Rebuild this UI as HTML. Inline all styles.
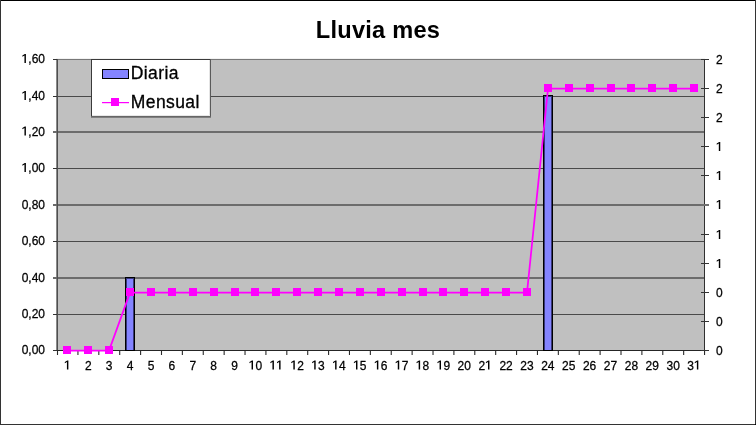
<!DOCTYPE html>
<html><head><meta charset="utf-8"><style>
html,body{margin:0;padding:0;background:#fff;overflow:hidden;}
svg{display:block;will-change:transform;} rect{shape-rendering:crispEdges;}
svg text{font-family:"Liberation Sans",sans-serif;fill:#000;}
.t{font-size:12px;stroke:#000;stroke-width:0.25px;}
.lg{font-size:17.5px;letter-spacing:0.4px;stroke:#000;stroke-width:0.3px;}
.ti{font-size:23.6px;font-weight:bold;letter-spacing:0.25px;}
</style></head><body>
<svg width="756" height="425" viewBox="0 0 756 425">
<rect x="0" y="0" width="756" height="425" fill="#fff"/>
<rect x="0" y="0" width="756" height="1" fill="#000"/>
<rect x="0" y="0" width="1" height="425" fill="#333"/>
<rect x="755" y="0" width="1" height="425" fill="#333"/>
<rect x="0" y="424" width="756" height="1" fill="#333"/>
<rect x="755" y="424" width="1" height="1" fill="#000"/>
<rect x="57" y="59" width="648" height="292" fill="#c0c0c0"/>
<rect x="58" y="96" width="646" height="1" fill="#4a4a4a"/>
<rect x="58" y="131" width="646" height="1" fill="#6c6c6c"/>
<rect x="58" y="132" width="646" height="1" fill="#6c6c6c"/>
<rect x="58" y="168" width="646" height="1" fill="#4a4a4a"/>
<rect x="58" y="204" width="646" height="1" fill="#6c6c6c"/>
<rect x="58" y="205" width="646" height="1" fill="#6c6c6c"/>
<rect x="58" y="241" width="646" height="1" fill="#4a4a4a"/>
<rect x="58" y="277" width="646" height="1" fill="#6c6c6c"/>
<rect x="58" y="278" width="646" height="1" fill="#6c6c6c"/>
<rect x="58" y="314" width="646" height="1" fill="#4a4a4a"/>
<rect x="56" y="58" width="649" height="1" fill="#f2f2f2"/>
<rect x="56" y="59" width="649" height="1" fill="#787878"/>
<rect x="56" y="59" width="1" height="292" fill="#8a8a8a"/>
<rect x="57" y="59" width="1" height="292" fill="#4e4e4e"/>
<rect x="704" y="59" width="1" height="292" fill="#303030"/>
<rect x="53" y="350" width="656" height="1" fill="#252525"/>
<rect x="53" y="59" width="4" height="1" fill="#333"/>
<rect x="53" y="96" width="4" height="1" fill="#333"/>
<rect x="53" y="131" width="4" height="2" fill="#6a6a6a"/>
<rect x="53" y="168" width="4" height="1" fill="#333"/>
<rect x="53" y="204" width="4" height="2" fill="#6a6a6a"/>
<rect x="53" y="241" width="4" height="1" fill="#333"/>
<rect x="53" y="277" width="4" height="2" fill="#6a6a6a"/>
<rect x="53" y="314" width="4" height="1" fill="#333"/>
<rect x="53" y="350" width="4" height="1" fill="#333"/>
<rect x="701" y="350" width="8" height="1" fill="#333"/>
<rect x="701" y="321" width="8" height="1" fill="#333"/>
<rect x="701" y="292" width="8" height="1" fill="#333"/>
<rect x="701" y="263" width="8" height="1" fill="#333"/>
<rect x="701" y="234" width="8" height="1" fill="#333"/>
<rect x="701" y="204" width="8" height="2" fill="#707070"/>
<rect x="701" y="175" width="8" height="1" fill="#333"/>
<rect x="701" y="146" width="8" height="1" fill="#333"/>
<rect x="701" y="117" width="8" height="1" fill="#333"/>
<rect x="701" y="88" width="8" height="1" fill="#333"/>
<rect x="701" y="59" width="8" height="1" fill="#333"/>
<line x1="57.50" y1="351" x2="57.50" y2="355" stroke="#2a2a2a" stroke-width="1.1"/>
<line x1="77.94" y1="351" x2="77.94" y2="355" stroke="#2a2a2a" stroke-width="1.1"/>
<line x1="98.82" y1="351" x2="98.82" y2="355" stroke="#2a2a2a" stroke-width="1.1"/>
<line x1="119.71" y1="351" x2="119.71" y2="355" stroke="#2a2a2a" stroke-width="1.1"/>
<line x1="140.60" y1="351" x2="140.60" y2="355" stroke="#2a2a2a" stroke-width="1.1"/>
<line x1="161.49" y1="351" x2="161.49" y2="355" stroke="#2a2a2a" stroke-width="1.1"/>
<line x1="182.37" y1="351" x2="182.37" y2="355" stroke="#2a2a2a" stroke-width="1.1"/>
<line x1="203.26" y1="351" x2="203.26" y2="355" stroke="#2a2a2a" stroke-width="1.1"/>
<line x1="224.15" y1="351" x2="224.15" y2="355" stroke="#2a2a2a" stroke-width="1.1"/>
<line x1="245.03" y1="351" x2="245.03" y2="355" stroke="#2a2a2a" stroke-width="1.1"/>
<line x1="265.92" y1="351" x2="265.92" y2="355" stroke="#2a2a2a" stroke-width="1.1"/>
<line x1="286.81" y1="351" x2="286.81" y2="355" stroke="#2a2a2a" stroke-width="1.1"/>
<line x1="307.70" y1="351" x2="307.70" y2="355" stroke="#2a2a2a" stroke-width="1.1"/>
<line x1="328.58" y1="351" x2="328.58" y2="355" stroke="#2a2a2a" stroke-width="1.1"/>
<line x1="349.47" y1="351" x2="349.47" y2="355" stroke="#2a2a2a" stroke-width="1.1"/>
<line x1="370.36" y1="351" x2="370.36" y2="355" stroke="#2a2a2a" stroke-width="1.1"/>
<line x1="391.24" y1="351" x2="391.24" y2="355" stroke="#2a2a2a" stroke-width="1.1"/>
<line x1="412.13" y1="351" x2="412.13" y2="355" stroke="#2a2a2a" stroke-width="1.1"/>
<line x1="433.02" y1="351" x2="433.02" y2="355" stroke="#2a2a2a" stroke-width="1.1"/>
<line x1="453.90" y1="351" x2="453.90" y2="355" stroke="#2a2a2a" stroke-width="1.1"/>
<line x1="474.79" y1="351" x2="474.79" y2="355" stroke="#2a2a2a" stroke-width="1.1"/>
<line x1="495.68" y1="351" x2="495.68" y2="355" stroke="#2a2a2a" stroke-width="1.1"/>
<line x1="516.57" y1="351" x2="516.57" y2="355" stroke="#2a2a2a" stroke-width="1.1"/>
<line x1="537.45" y1="351" x2="537.45" y2="355" stroke="#2a2a2a" stroke-width="1.1"/>
<line x1="558.34" y1="351" x2="558.34" y2="355" stroke="#2a2a2a" stroke-width="1.1"/>
<line x1="579.23" y1="351" x2="579.23" y2="355" stroke="#2a2a2a" stroke-width="1.1"/>
<line x1="600.11" y1="351" x2="600.11" y2="355" stroke="#2a2a2a" stroke-width="1.1"/>
<line x1="621.00" y1="351" x2="621.00" y2="355" stroke="#2a2a2a" stroke-width="1.1"/>
<line x1="641.89" y1="351" x2="641.89" y2="355" stroke="#2a2a2a" stroke-width="1.1"/>
<line x1="662.78" y1="351" x2="662.78" y2="355" stroke="#2a2a2a" stroke-width="1.1"/>
<line x1="683.66" y1="351" x2="683.66" y2="355" stroke="#2a2a2a" stroke-width="1.1"/>
<line x1="704.55" y1="351" x2="704.55" y2="355" stroke="#2a2a2a" stroke-width="1.1"/>
<rect x="125" y="277" width="10" height="74" fill="#000"/>
<rect x="126" y="278" width="8" height="72" fill="#383878"/>
<rect x="127" y="279" width="6" height="71" fill="#8484ff"/>
<rect x="543" y="95" width="10" height="256" fill="#000"/>
<rect x="544" y="96" width="8" height="254" fill="#383878"/>
<rect x="545" y="97" width="6" height="253" fill="#8484ff"/>
<polyline points="67.00,350.60 88.00,350.60 109.00,350.60 130.00,292.60 151.00,292.60 172.00,292.60 193.00,292.60 214.00,292.60 235.00,292.60 255.00,292.60 276.00,292.60 297.00,292.60 318.00,292.60 339.00,292.60 360.00,292.60 381.00,292.60 402.00,292.60 423.00,292.60 443.00,292.60 464.00,292.60 485.00,292.60 506.00,292.60 527.00,292.60 548.00,88.60 569.00,88.60 590.00,88.60 611.00,88.60 631.00,88.60 652.00,88.60 673.00,88.60 694.00,88.60" fill="none" stroke="#ff00ff" stroke-width="1.75" stroke-linejoin="round"/>
<rect x="63" y="346" width="8" height="8" fill="#ff00ff"/>
<rect x="84" y="346" width="8" height="8" fill="#ff00ff"/>
<rect x="105" y="346" width="8" height="8" fill="#ff00ff"/>
<rect x="126" y="288" width="8" height="8" fill="#ff00ff"/>
<rect x="147" y="288" width="8" height="8" fill="#ff00ff"/>
<rect x="168" y="288" width="8" height="8" fill="#ff00ff"/>
<rect x="189" y="288" width="8" height="8" fill="#ff00ff"/>
<rect x="210" y="288" width="8" height="8" fill="#ff00ff"/>
<rect x="231" y="288" width="8" height="8" fill="#ff00ff"/>
<rect x="251" y="288" width="8" height="8" fill="#ff00ff"/>
<rect x="272" y="288" width="8" height="8" fill="#ff00ff"/>
<rect x="293" y="288" width="8" height="8" fill="#ff00ff"/>
<rect x="314" y="288" width="8" height="8" fill="#ff00ff"/>
<rect x="335" y="288" width="8" height="8" fill="#ff00ff"/>
<rect x="356" y="288" width="8" height="8" fill="#ff00ff"/>
<rect x="377" y="288" width="8" height="8" fill="#ff00ff"/>
<rect x="398" y="288" width="8" height="8" fill="#ff00ff"/>
<rect x="419" y="288" width="8" height="8" fill="#ff00ff"/>
<rect x="439" y="288" width="8" height="8" fill="#ff00ff"/>
<rect x="460" y="288" width="8" height="8" fill="#ff00ff"/>
<rect x="481" y="288" width="8" height="8" fill="#ff00ff"/>
<rect x="502" y="288" width="8" height="8" fill="#ff00ff"/>
<rect x="523" y="288" width="8" height="8" fill="#ff00ff"/>
<rect x="544" y="84" width="8" height="8" fill="#ff00ff"/>
<rect x="565" y="84" width="8" height="8" fill="#ff00ff"/>
<rect x="586" y="84" width="8" height="8" fill="#ff00ff"/>
<rect x="607" y="84" width="8" height="8" fill="#ff00ff"/>
<rect x="627" y="84" width="8" height="8" fill="#ff00ff"/>
<rect x="648" y="84" width="8" height="8" fill="#ff00ff"/>
<rect x="669" y="84" width="8" height="8" fill="#ff00ff"/>
<rect x="690" y="84" width="8" height="8" fill="#ff00ff"/>
<rect x="91" y="59" width="120" height="59" fill="#fff"/>
<rect x="91" y="59" width="120" height="1" fill="#3a3a3a"/>
<rect x="91" y="59" width="1" height="58" fill="#3a3a3a"/>
<rect x="209" y="60" width="1" height="56" fill="#e4e4e4"/>
<rect x="210" y="59" width="1" height="58" fill="#5a5a5a"/>
<rect x="92" y="115" width="118" height="1" fill="#e8e8e8"/>
<rect x="91" y="116" width="120" height="1" fill="#666"/>
<rect x="91" y="117" width="120" height="1" fill="#808080"/>
<rect x="102" y="69" width="27" height="10" fill="#000"/>
<rect x="103" y="70" width="25" height="8" fill="#8484ff"/>
<rect x="102" y="102" width="27" height="1" fill="#ff00ff"/>
<rect x="102" y="103" width="27" height="1" fill="#ffc8ff"/>
<rect x="111" y="98" width="8" height="8" fill="#ff00ff"/>
<g transform="translate(0,63.0) scale(1,1.08)"><text class="t" x="28.32 31.65 38.33" y="0">,60</text><path d="M0.235,0 L0.355,0 L0.355,0.70 L0.265,0.70 L0.06,0.585 L0.06,0.475 L0.235,0.58 Z" transform="translate(21.64,0) scale(12.0,-12.0)" fill="#000"/></g>
<g transform="translate(0,100.0) scale(1,1.08)"><text class="t" x="28.32 31.65 38.33" y="0">,40</text><path d="M0.235,0 L0.355,0 L0.355,0.70 L0.265,0.70 L0.06,0.585 L0.06,0.475 L0.235,0.58 Z" transform="translate(21.64,0) scale(12.0,-12.0)" fill="#000"/></g>
<g transform="translate(0,135.5) scale(1,1.08)"><text class="t" x="28.32 31.65 38.33" y="0">,20</text><path d="M0.235,0 L0.355,0 L0.355,0.70 L0.265,0.70 L0.06,0.585 L0.06,0.475 L0.235,0.58 Z" transform="translate(21.64,0) scale(12.0,-12.0)" fill="#000"/></g>
<g transform="translate(0,172.0) scale(1,1.08)"><text class="t" x="28.32 31.65 38.33" y="0">,00</text><path d="M0.235,0 L0.355,0 L0.355,0.70 L0.265,0.70 L0.06,0.585 L0.06,0.475 L0.235,0.58 Z" transform="translate(21.64,0) scale(12.0,-12.0)" fill="#000"/></g>
<g transform="translate(0,208.5) scale(1,1.08)"><text class="t" x="21.64 28.32 31.65 38.33" y="0">0,80</text></g>
<g transform="translate(0,245.0) scale(1,1.08)"><text class="t" x="21.64 28.32 31.65 38.33" y="0">0,60</text></g>
<g transform="translate(0,281.5) scale(1,1.08)"><text class="t" x="21.64 28.32 31.65 38.33" y="0">0,40</text></g>
<g transform="translate(0,318.0) scale(1,1.08)"><text class="t" x="21.64 28.32 31.65 38.33" y="0">0,20</text></g>
<g transform="translate(0,354.0) scale(1,1.08)"><text class="t" x="21.64 28.32 31.65 38.33" y="0">0,00</text></g>
<g transform="translate(0,355.0) scale(1,1.08)"><text class="t" x="716.00" y="0">0</text></g>
<g transform="translate(0,326.0) scale(1,1.08)"><text class="t" x="716.00" y="0">0</text></g>
<g transform="translate(0,297.0) scale(1,1.08)"><text class="t" x="716.00" y="0">0</text></g>
<g transform="translate(0,268.0) scale(1,1.08)"><path d="M0.235,0 L0.355,0 L0.355,0.70 L0.265,0.70 L0.06,0.585 L0.06,0.475 L0.235,0.58 Z" transform="translate(716.00,0) scale(12.0,-12.0)" fill="#000"/></g>
<g transform="translate(0,239.0) scale(1,1.08)"><path d="M0.235,0 L0.355,0 L0.355,0.70 L0.265,0.70 L0.06,0.585 L0.06,0.475 L0.235,0.58 Z" transform="translate(716.00,0) scale(12.0,-12.0)" fill="#000"/></g>
<g transform="translate(0,209.0) scale(1,1.08)"><path d="M0.235,0 L0.355,0 L0.355,0.70 L0.265,0.70 L0.06,0.585 L0.06,0.475 L0.235,0.58 Z" transform="translate(716.00,0) scale(12.0,-12.0)" fill="#000"/></g>
<g transform="translate(0,180.0) scale(1,1.08)"><path d="M0.235,0 L0.355,0 L0.355,0.70 L0.265,0.70 L0.06,0.585 L0.06,0.475 L0.235,0.58 Z" transform="translate(716.00,0) scale(12.0,-12.0)" fill="#000"/></g>
<g transform="translate(0,151.0) scale(1,1.08)"><path d="M0.235,0 L0.355,0 L0.355,0.70 L0.265,0.70 L0.06,0.585 L0.06,0.475 L0.235,0.58 Z" transform="translate(716.00,0) scale(12.0,-12.0)" fill="#000"/></g>
<g transform="translate(0,122.0) scale(1,1.08)"><text class="t" x="716.00" y="0">2</text></g>
<g transform="translate(0,93.0) scale(1,1.08)"><text class="t" x="716.00" y="0">2</text></g>
<g transform="translate(0,64.0) scale(1,1.08)"><text class="t" x="716.00" y="0">2</text></g>
<g transform="translate(0,369.5) scale(1,1.08)"><path d="M0.235,0 L0.355,0 L0.355,0.70 L0.265,0.70 L0.06,0.585 L0.06,0.475 L0.235,0.58 Z" transform="translate(64.11,0) scale(12.0,-12.0)" fill="#000"/></g>
<g transform="translate(0,369.5) scale(1,1.08)"><text class="t" x="84.99" y="0">2</text></g>
<g transform="translate(0,369.5) scale(1,1.08)"><text class="t" x="105.88" y="0">3</text></g>
<g transform="translate(0,369.5) scale(1,1.08)"><text class="t" x="126.77" y="0">4</text></g>
<g transform="translate(0,369.5) scale(1,1.08)"><text class="t" x="147.65" y="0">5</text></g>
<g transform="translate(0,369.5) scale(1,1.08)"><text class="t" x="168.54" y="0">6</text></g>
<g transform="translate(0,369.5) scale(1,1.08)"><text class="t" x="189.43" y="0">7</text></g>
<g transform="translate(0,369.5) scale(1,1.08)"><text class="t" x="210.32" y="0">8</text></g>
<g transform="translate(0,369.5) scale(1,1.08)"><text class="t" x="231.20" y="0">9</text></g>
<g transform="translate(0,369.5) scale(1,1.08)"><text class="t" x="255.43" y="0">0</text><path d="M0.235,0 L0.355,0 L0.355,0.70 L0.265,0.70 L0.06,0.585 L0.06,0.475 L0.235,0.58 Z" transform="translate(248.75,0) scale(12.0,-12.0)" fill="#000"/></g>
<g transform="translate(0,369.5) scale(1,1.08)"><path d="M0.235,0 L0.355,0 L0.355,0.70 L0.265,0.70 L0.06,0.585 L0.06,0.475 L0.235,0.58 Z" transform="translate(269.64,0) scale(12.0,-12.0)" fill="#000"/><path d="M0.235,0 L0.355,0 L0.355,0.70 L0.265,0.70 L0.06,0.585 L0.06,0.475 L0.235,0.58 Z" transform="translate(276.31,0) scale(12.0,-12.0)" fill="#000"/></g>
<g transform="translate(0,369.5) scale(1,1.08)"><text class="t" x="297.20" y="0">2</text><path d="M0.235,0 L0.355,0 L0.355,0.70 L0.265,0.70 L0.06,0.585 L0.06,0.475 L0.235,0.58 Z" transform="translate(290.53,0) scale(12.0,-12.0)" fill="#000"/></g>
<g transform="translate(0,369.5) scale(1,1.08)"><text class="t" x="318.09" y="0">3</text><path d="M0.235,0 L0.355,0 L0.355,0.70 L0.265,0.70 L0.06,0.585 L0.06,0.475 L0.235,0.58 Z" transform="translate(311.41,0) scale(12.0,-12.0)" fill="#000"/></g>
<g transform="translate(0,369.5) scale(1,1.08)"><text class="t" x="338.98" y="0">4</text><path d="M0.235,0 L0.355,0 L0.355,0.70 L0.265,0.70 L0.06,0.585 L0.06,0.475 L0.235,0.58 Z" transform="translate(332.30,0) scale(12.0,-12.0)" fill="#000"/></g>
<g transform="translate(0,369.5) scale(1,1.08)"><text class="t" x="359.86" y="0">5</text><path d="M0.235,0 L0.355,0 L0.355,0.70 L0.265,0.70 L0.06,0.585 L0.06,0.475 L0.235,0.58 Z" transform="translate(353.19,0) scale(12.0,-12.0)" fill="#000"/></g>
<g transform="translate(0,369.5) scale(1,1.08)"><text class="t" x="380.75" y="0">6</text><path d="M0.235,0 L0.355,0 L0.355,0.70 L0.265,0.70 L0.06,0.585 L0.06,0.475 L0.235,0.58 Z" transform="translate(374.08,0) scale(12.0,-12.0)" fill="#000"/></g>
<g transform="translate(0,369.5) scale(1,1.08)"><text class="t" x="401.64" y="0">7</text><path d="M0.235,0 L0.355,0 L0.355,0.70 L0.265,0.70 L0.06,0.585 L0.06,0.475 L0.235,0.58 Z" transform="translate(394.96,0) scale(12.0,-12.0)" fill="#000"/></g>
<g transform="translate(0,369.5) scale(1,1.08)"><text class="t" x="422.52" y="0">8</text><path d="M0.235,0 L0.355,0 L0.355,0.70 L0.265,0.70 L0.06,0.585 L0.06,0.475 L0.235,0.58 Z" transform="translate(415.85,0) scale(12.0,-12.0)" fill="#000"/></g>
<g transform="translate(0,369.5) scale(1,1.08)"><text class="t" x="443.41" y="0">9</text><path d="M0.235,0 L0.355,0 L0.355,0.70 L0.265,0.70 L0.06,0.585 L0.06,0.475 L0.235,0.58 Z" transform="translate(436.74,0) scale(12.0,-12.0)" fill="#000"/></g>
<g transform="translate(0,369.5) scale(1,1.08)"><text class="t" x="457.62 464.30" y="0">20</text></g>
<g transform="translate(0,369.5) scale(1,1.08)"><text class="t" x="478.51" y="0">2</text><path d="M0.235,0 L0.355,0 L0.355,0.70 L0.265,0.70 L0.06,0.585 L0.06,0.475 L0.235,0.58 Z" transform="translate(485.19,0) scale(12.0,-12.0)" fill="#000"/></g>
<g transform="translate(0,369.5) scale(1,1.08)"><text class="t" x="499.40 506.07" y="0">22</text></g>
<g transform="translate(0,369.5) scale(1,1.08)"><text class="t" x="520.29 526.96" y="0">23</text></g>
<g transform="translate(0,369.5) scale(1,1.08)"><text class="t" x="541.17 547.85" y="0">24</text></g>
<g transform="translate(0,369.5) scale(1,1.08)"><text class="t" x="562.06 568.73" y="0">25</text></g>
<g transform="translate(0,369.5) scale(1,1.08)"><text class="t" x="582.95 589.62" y="0">26</text></g>
<g transform="translate(0,369.5) scale(1,1.08)"><text class="t" x="603.83 610.51" y="0">27</text></g>
<g transform="translate(0,369.5) scale(1,1.08)"><text class="t" x="624.72 631.40" y="0">28</text></g>
<g transform="translate(0,369.5) scale(1,1.08)"><text class="t" x="645.61 652.28" y="0">29</text></g>
<g transform="translate(0,369.5) scale(1,1.08)"><text class="t" x="666.49 673.17" y="0">30</text></g>
<g transform="translate(0,369.5) scale(1,1.08)"><text class="t" x="687.38" y="0">3</text><path d="M0.235,0 L0.355,0 L0.355,0.70 L0.265,0.70 L0.06,0.585 L0.06,0.475 L0.235,0.58 Z" transform="translate(694.06,0) scale(12.0,-12.0)" fill="#000"/></g>
<text x="130.8" y="79" class="lg">Diaria</text>
<text x="130.8" y="108" class="lg">Mensual</text>
<text x="378" y="38" class="ti" text-anchor="middle">Lluvia mes</text>
</svg>
</body></html>
